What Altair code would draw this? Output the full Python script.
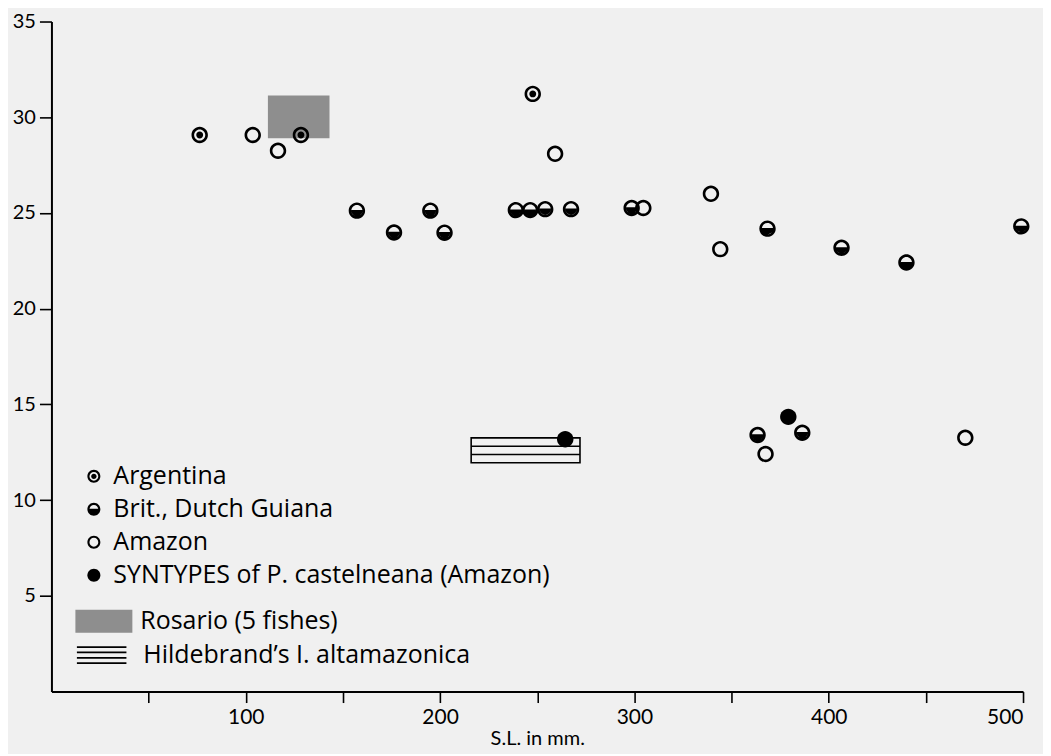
import altair as alt
import pandas as pd

# ---- data: S.L. (mm) vs count ----
arg_sl = [76.3, 128.4, 247.7]
arg_v = [29.07, 29.07, 31.22]

bri_sl = [157.2, 176.3, 195.0, 202.3, 239.0, 246.4, 254.1, 267.4, 298.6,
          363.4, 368.5, 386.4, 406.6, 440.0, 499.1]
bri_v = [25.12, 23.98, 25.12, 23.97, 25.15, 25.15, 25.2, 25.2, 25.26,
         13.4, 24.18, 13.52, 23.18, 22.41, 24.3]

ama_sl = [103.6, 116.6, 259.2, 304.6, 339.4, 344.2, 367.5, 470.3]
ama_v = [29.07, 28.25, 28.09, 25.26, 26.0, 23.11, 12.41, 13.26]

syn_sl = [264.4, 379.2]
syn_v = [13.18, 14.35]

groups = ["Argentina", "Brit., Dutch Guiana", "Amazon",
          "SYNTYPES of P. castelneana (Amazon)"]

# ranges
ros_label = "Rosario (5 fishes)"
ros_x = [111.4, 143.1]
ros_y = [28.9, 31.13]

hil_label = "Hildebrand\u2019s I. altamazonica"
hil_x = [216.0, 272.0]
hil_y = [11.95, 13.25]

x_ticks = [50, 100, 150, 200, 250, 300, 350, 400, 450, 500]
y_ticks = [5, 10, 15, 20, 25, 30, 35]

# ---- tables ----
rows = []
for g, xs, ys in [(groups[0], arg_sl, arg_v), (groups[1], bri_sl, bri_v),
                  (groups[2], ama_sl, ama_v), (groups[3], syn_sl, syn_v)]:
    for a, b in zip(xs, ys):
        rows.append({"sl": a, "n": b, "grp": g})
pts = pd.DataFrame(rows)
ros = pd.DataFrame([{"x0": ros_x[0], "x1": ros_x[1], "y0": ros_y[0], "y1": ros_y[1], "lab": ros_label}])
hil = pd.DataFrame([{"x0": hil_x[0], "x1": hil_x[1], "y0": hil_y[0], "y1": hil_y[1], "lab": hil_label}])

# ---- marker shapes (unit box paths) ----
R = 0.68
outer = "M 0 -1 A 1 1 0 1 1 0 1 A 1 1 0 1 1 0 -1 Z "
inner = f"M 0 -{R} A {R} {R} 0 1 0 0 {R} A {R} {R} 0 1 0 0 -{R} Z "
dot = "M 0 -0.42 A 0.42 0.42 0 1 1 0 0.42 A 0.42 0.42 0 1 1 0 -0.42 Z"
c = -0.08
hx = round((R * R - c * c) ** 0.5, 4)
seg = f"M {hx} {c} A {R} {R} 0 1 1 -{hx} {c} Z"
shape_arg = outer + inner + dot
shape_bri = outer + inner + seg
shape_ama = outer + inner.strip()
shape_syn = outer.strip()

swatch_rect = "M -1 -1 H 3.96 V 1 H -1 Z"
swatch_lines = "M -1 -0.8 H 3.96 M -1 -0.27 H 3.96 M -1 0.27 H 3.96 M -1 0.8 H 3.96"

FONT = "Lato"
LFONT = "Open Sans"
LSIZE = 25

xscale = alt.Scale(domain=[0, 500], nice=False, zero=True)
yscale = alt.Scale(domain=[0, 35], nice=False, zero=True)

xaxis = alt.Axis(values=x_ticks, title="S.L. in mm.",
                 labelExpr="datum.value % 100 == 0 ? datum.label : ''",
                 tickSize=11, labelPadding=4, grid=False, titlePadding=1,
                 labelFontSize=21)
yaxis = alt.Axis(values=y_ticks, title=None, tickSize=12, labelPadding=4, grid=False,
                 labelFontSize=20)

ros_layer = alt.Chart(ros).mark_rect(strokeWidth=0).encode(
    x=alt.X("x0:Q", scale=xscale, axis=xaxis),
    x2="x1:Q",
    y=alt.Y("y0:Q", scale=yscale, axis=yaxis),
    y2="y1:Q",
    color=alt.Color("lab:N", scale=alt.Scale(range=["#8e8e8e"]),
                    legend=alt.Legend(orient="none", legendX=23, legendY=588,
                                      title=None, padding=0, symbolType=swatch_rect,
                                      symbolSize=529, symbolStrokeWidth=0,
                                      labelFont=LFONT, labelFontSize=LSIZE,
                                      labelColor="black", labelOffset=41,
                                      labelLimit=800)),
)

hil_box = alt.Chart(hil).mark_rect(filled=False, strokeWidth=1.6).encode(
    x="x0:Q", x2="x1:Q", y="y0:Q", y2="y1:Q",
    stroke=alt.Stroke("lab:N", scale=alt.Scale(range=["black"]),
                      legend=alt.Legend(orient="none", legendX=23, legendY=622,
                                        title=None, padding=0, symbolType=swatch_lines,
                                        symbolSize=400, symbolStrokeWidth=1.8,
                                        labelFont=LFONT, labelFontSize=LSIZE,
                                        labelColor="black", labelOffset=44,
                                        labelLimit=800)),
)

hil_lines = alt.Chart(hil).transform_calculate(
    m1="datum.y0 + (datum.y1 - datum.y0) / 3",
    m2="datum.y0 + 2 * (datum.y1 - datum.y0) / 3",
).transform_fold(["m1", "m2"], as_=["k", "yy"]).mark_rule(
    color="black", strokeWidth=1.6
).encode(x="x0:Q", x2="x1:Q", y="yy:Q")

pt_layer = alt.Chart(pts).mark_point(filled=True, color="black", size=270,
                                     strokeWidth=0, opacity=1).encode(
    x="sl:Q",
    y="n:Q",
    shape=alt.Shape("grp:N",
                    scale=alt.Scale(domain=groups,
                                    range=[shape_arg, shape_bri, shape_ama, shape_syn]),
                    legend=alt.Legend(orient="none", legendX=30, legendY=443,
                                      title=None, padding=0, symbolSize=169,
                                      symbolStrokeWidth=0, symbolFillColor="black",
                                      symbolOpacity=1,
                                      labelFont=LFONT, labelFontSize=LSIZE,
                                      labelColor="black", labelOffset=7,
                                      rowPadding=7, labelLimit=800)),
)

chart = alt.layer(ros_layer, hil_box, hil_lines, pt_layer).resolve_scale(
    color="independent", stroke="independent", shape="independent"
).properties(
    width=973, height=671,
    padding={"left": 43.5, "top": 13, "right": 20, "bottom": 62},
    autosize=alt.AutoSizeParams(type="none"),
    background="#f0f0f0",
).configure_view(stroke=None).configure_axis(
    domainColor="black", domainWidth=2, tickColor="black", tickWidth=1.6,
    labelFont=FONT, labelColor="black",
    titleFont=FONT, titleFontSize=20, titleColor="black", titleFontWeight="normal",
)

chart.save("out.html", embed_options={"renderer": "svg", "actions": False})
